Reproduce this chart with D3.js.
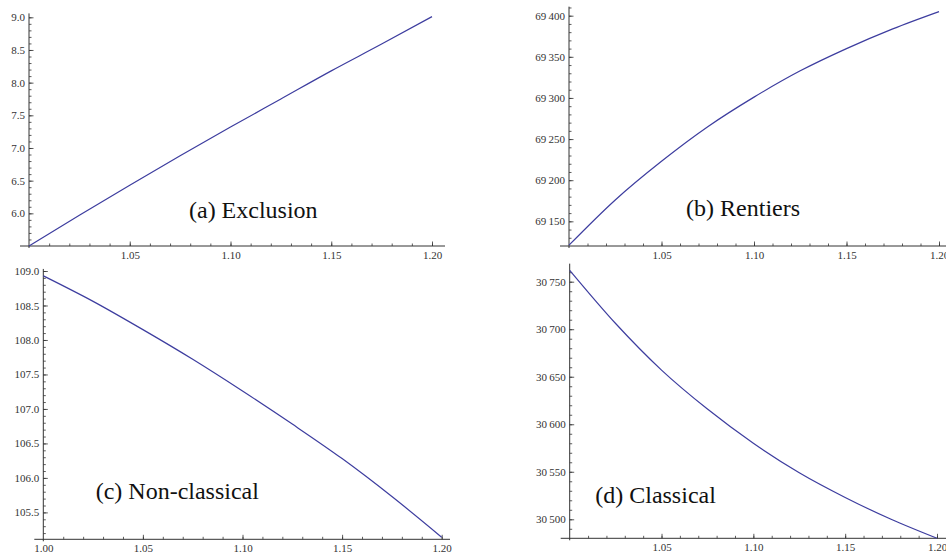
<!DOCTYPE html>
<html>
<head>
<meta charset="utf-8">
<script src="https://cdn.jsdelivr.net/npm/d3@7"></script>
<style>
  body { margin: 0; background: #fff; }
  svg { display: block; }
  svg text { font-family: 'Liberation Serif', 'DejaVu Serif', 'Noto Serif', serif !important; }
</style>
</head>
<body>
<div id="main_graphs"></div>
<script>
// shared x grid (the parameter on the horizontal axis)
var xVals = [1.0, 1.025, 1.05, 1.075, 1.1, 1.125, 1.15, 1.175, 1.2];

// series
var exclusion    = [5.50, 5.97, 6.43, 6.88, 7.32, 7.75, 8.18, 8.59, 9.01];
var rentiers     = [69121, 69176, 69223, 69265, 69301, 69333, 69360, 69384, 69405];
var nonClassical = [108.93, 108.56, 108.15, 107.72, 107.26, 106.78, 106.28, 105.73, 105.14];
var classical    = [30762, 30706, 30657, 30616, 30580, 30549, 30523, 30500, 30480];

// tick values
var xMajor = [1.00, 1.05, 1.10, 1.15, 1.20];
var yMajorA = [6.0, 6.5, 7.0, 7.5, 8.0, 8.5, 9.0];
var yMajorB = [69150, 69200, 69250, 69300, 69350, 69400];
var yMajorC = [105.5, 106.0, 106.5, 107.0, 107.5, 108.0, 108.5, 109.0];
var yMajorD = [30500, 30550, 30600, 30650, 30700, 30750];

var titles = ["(a) Exclusion", "(b) Rentiers", "(c) Non-classical", "(d) Classical"];

var width = 946, height = 557;
var serif = "'Liberation Serif', 'DejaVu Serif', serif";

var svg = d3.select("#main_graphs")
  .append("svg")
  .attr("width", width)
  .attr("height", height)
  .attr("font-family", serif);

function range(a, b, step) {
  var out = [];
  var n = Math.round((b - a) / step);
  for (var i = 0; i <= n; i++) out.push(+(a + i * step).toFixed(6));
  return out;
}

function grouped(v) {
  // 69400 -> "69 400" with a thin space like the original
  var s = String(v);
  return s.length > 4 ? s.slice(0, s.length - 3) + "\u2009" + s.slice(-3) : s;
}

function drawPanel(p) {
  var g = svg.append("g");

  var x = d3.scaleLinear().domain([1.0, 1.2]).range(p.xr);
  var y = d3.scaleLinear().domain(p.yd).range(p.yr);

  var x0 = x(1.0);
  var yBase = y(p.yd[0]);

  // minor + major ticks pointing into the plot
  var xMinor = range(1.0, 1.2, 0.01).filter(function(d) { return d > 1.0; });
  g.append("g")
    .attr("transform", "translate(0," + yBase + ")")
    .call(d3.axisTop(x).tickValues(xMinor).tickSize(2.5).tickFormat(""))
    .call(function(s) { s.select(".domain").remove(); });
  g.append("g")
    .attr("transform", "translate(0," + yBase + ")")
    .call(d3.axisTop(x).tickValues(xMajor.filter(function(d) { return d > 1.0; })).tickSize(4.5).tickFormat(""))
    .call(function(s) { s.select(".domain").remove(); });

  var yMinor = range(p.minorStart, p.yTop, p.minorStep)
    .filter(function(d) { return d > p.yd[0] && d <= p.yTop; });
  g.append("g")
    .attr("transform", "translate(" + x0 + ",0)")
    .call(d3.axisRight(y).tickValues(yMinor).tickSize(2.5).tickFormat(""))
    .call(function(s) { s.select(".domain").remove(); });
  g.append("g")
    .attr("transform", "translate(" + x0 + ",0)")
    .call(d3.axisRight(y).tickValues(p.yMajor).tickSize(4.5).tickFormat(""))
    .call(function(s) { s.select(".domain").remove(); });

  g.selectAll(".tick line").attr("stroke", "#333").attr("stroke-width", 0.8);

  // tick labels
  var xLab = p.showOrigin ? xMajor : xMajor.filter(function(d) { return d > 1.0; });
  g.append("g")
    .attr("transform", "translate(0," + yBase + ")")
    .call(d3.axisBottom(x).tickValues(xLab).tickSize(0).tickPadding(5).tickFormat(d3.format(".2f")))
    .call(function(s) { s.select(".domain").remove(); })
    .attr("font-family", serif)
    .attr("font-size", 11)
    .selectAll("text")
    .attr("fill", "#333");

  g.append("g")
    .attr("transform", "translate(" + x0 + ",0)")
    .call(d3.axisLeft(y).tickValues(p.yMajor).tickSize(0).tickPadding(4).tickFormat(p.fmt))
    .call(function(s) { s.select(".domain").remove(); })
    .attr("font-family", serif)
    .attr("font-size", 11)
    .selectAll("text")
    .attr("fill", "#333");

  // axis lines
  g.append("line")
    .attr("x1", x0 - 9).attr("x2", p.xEnd)
    .attr("y1", yBase).attr("y2", yBase)
    .attr("stroke", "#333").attr("stroke-width", 1);
  g.append("line")
    .attr("x1", x0).attr("x2", x0)
    .attr("y1", yBase + 2).attr("y2", y(p.yTop))
    .attr("stroke", "#333").attr("stroke-width", 1);

  // the curve
  var line = d3.line()
    .x(function(d, i) { return x(xVals[i]); })
    .y(function(d) { return y(d); })
    .curve(d3.curveMonotoneX);

  g.append("path")
    .datum(p.data)
    .attr("d", line)
    .attr("fill", "none")
    .attr("stroke", "#3d3d9f")
    .attr("stroke-width", 1.2);

  // panel caption
  g.append("text")
    .attr("x", x(p.label[0]))
    .attr("y", y(p.label[1]))
    .attr("font-family", serif)
    .attr("font-size", 24)
    .attr("fill", "#111")
    .text(p.title);
}

drawPanel({
  data: exclusion, title: titles[0],
  xr: [29, 432], yd: [5.5, 9.0], yr: [246, 17.3], yTop: 9.06,
  yMajor: yMajorA, minorStart: 5.5, minorStep: 0.1,
  fmt: d3.format(".1f"), showOrigin: false, xEnd: 445,
  label: [1.0794, 5.93]
});

drawPanel({
  data: rentiers, title: titles[1],
  xr: [569, 939], yd: [69120, 69400], yr: [246, 15.7], yTop: 69411,
  yMajor: yMajorB, minorStart: 69120, minorStep: 10,
  fmt: grouped, showOrigin: false, xEnd: 946,
  label: [1.0633, 69157]
});

drawPanel({
  data: nonClassical, title: titles[2],
  xr: [43.3, 441.7], yd: [105.11, 109.0], yr: [539.3, 271], yTop: 109.03,
  yMajor: yMajorC, minorStart: 105.2, minorStep: 0.1,
  fmt: d3.format(".1f"), showOrigin: true, xEnd: 450,
  label: [1.0263, 105.69]
});

drawPanel({
  data: classical, title: titles[3],
  xr: [569.7, 937], yd: [30480, 30750], yr: [538.3, 281.7], yTop: 30769,
  yMajor: yMajorD, minorStart: 30480, minorStep: 10,
  fmt: grouped, showOrigin: false, xEnd: 946,
  label: [1.0139, 30517]
});
</script>
</body>
</html>
